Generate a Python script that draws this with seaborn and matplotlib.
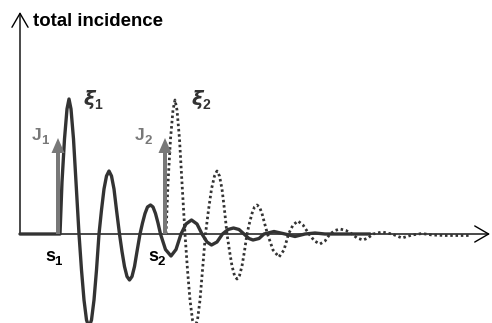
import matplotlib
matplotlib.use("Agg")
import matplotlib.pyplot as plt
import seaborn as sns
import pandas as pd
from matplotlib.patches import ArrowStyle

sns.set_theme(style="white")
plt.rcParams['font.family'] = ['Liberation Sans', 'DejaVu Sans']

# ---- data (time units, amplitude units) ----
solid_t = [0.0, 4.0, 4.2, 4.45, 4.7, 4.9, 5.1, 5.35, 5.6, 5.9,
           6.15, 6.4, 6.65, 6.9, 7.15, 7.4, 7.65, 7.9,
           8.15, 8.4, 8.65, 8.9, 9.15, 9.4, 9.65, 9.95,
           10.2, 10.45, 10.7, 10.95, 11.2, 11.45, 11.7, 12.0,
           12.25, 12.5, 12.75, 13.05, 13.3, 13.55, 13.8, 14.05,
           14.55, 15.1, 15.6, 16.1, 16.6, 17.15, 17.7, 18.2,
           18.7, 19.15, 19.7, 20.25, 20.8, 21.35, 21.9, 22.4,
           22.9, 23.3, 23.9, 24.4, 25.4, 26.5, 27.5, 28.5, 29.5, 30.5, 35.0]
solid_y = [0.0, 0.0, 5.2, 9.5, 12.5, 13.5, 12.5, 9.5, 5.2, 0.0,
           -3.6, -6.6, -8.6, -9.3, -8.6, -6.6, -3.6, 0.0,
           2.4, 4.5, 5.8, 6.3, 5.8, 4.5, 2.4, 0.0,
           -1.75, -3.25, -4.25, -4.6, -4.25, -3.25, -1.75, 0.0,
           1.1, 2.05, 2.7, 2.9, 2.7, 2.05, 1.1, 0.0,
           -1.55, -2.2, -1.55, 0.0, 1.0, 1.4, 1.0, 0.0,
           -0.8, -1.1, -0.8, 0.0, 0.45, 0.6, 0.45, 0.0,
           -0.45, -0.6, -0.45, 0.0, 0.25, 0.0, -0.25, 0.0, 0.1, 0.0, 0.0]

dotted_t = [14.6, 14.8, 15.05, 15.3, 15.5, 15.7, 15.95, 16.2, 16.5,
            16.75, 17.0, 17.25, 17.5, 17.75, 18.0, 18.25, 18.55,
            18.85, 19.15, 19.45, 19.7, 19.95, 20.2, 20.45, 20.7,
            20.95, 21.2, 21.45, 21.7, 21.95, 22.2, 22.45, 22.7,
            22.95, 23.2, 23.45, 23.7, 23.95, 24.2, 24.45, 24.75,
            25.3, 25.9, 26.4, 26.85, 27.3, 27.8, 28.3, 28.9,
            29.45, 30.0, 30.5, 31.0, 31.5, 32.0, 32.6, 33.2,
            33.7, 34.3, 34.8, 35.3, 36.2, 37.2, 38.2, 39.2, 40.2, 41.2, 42.5, 45.0]
dotted_y = [0.0, 5.1, 9.5, 12.4, 13.4, 12.4, 9.5, 5.1, 0.0,
            -3.6, -6.6, -8.6, -9.3, -8.6, -6.6, -3.6, 0.0,
            2.4, 4.5, 5.8, 6.3, 5.8, 4.5, 2.4, 0.0,
            -1.7, -3.2, -4.15, -4.5, -4.15, -3.2, -1.7, 0.0,
            1.1, 2.05, 2.7, 2.9, 2.7, 2.05, 1.1, 0.0,
            -1.6, -2.3, -1.6, 0.0, 0.9, 1.3, 0.9, 0.0,
            -0.7, -1.0, -0.7, 0.0, 0.35, 0.5, 0.35, 0.0,
            -0.4, -0.6, -0.4, 0.0, 0.2, 0.0, -0.4, -0.1, 0.05, -0.1, -0.15, -0.15]

impulse_t = [3.8, 14.5]
impulse_h = [9.6, 9.6]
impulse_labels = ["J", "J"]
impulse_subs = ["1", "2"]
stim_labels = ["s", "s"]
resp_labels = ["ξ", "ξ"]

dark = "#333333"
gray = "#787878"

fig = plt.figure(figsize=(4.92, 3.23), dpi=100)
ax = fig.add_axes([0, 0, 1, 1])
ax.set_xlim(-2.0, 47.2)
ax.set_ylim(-8.9, 23.4)
ax.axis("off")

# axes with arrowheads
axis_style = ArrowStyle("->", head_length=10, head_width=5.8)
ax.annotate("", xy=(47.0, 0), xytext=(0, 0),
            arrowprops=dict(arrowstyle=axis_style, mutation_scale=1, color="black",
                            lw=1.0, shrinkA=0, shrinkB=0))
ax.annotate("", xy=(0, 22.2), xytext=(0, 0),
            arrowprops=dict(arrowstyle=axis_style, mutation_scale=1, color="black",
                            lw=1.0, shrinkA=0, shrinkB=0))

df_s = pd.DataFrame({"t": solid_t, "y": solid_y})
df_d = pd.DataFrame({"t": dotted_t, "y": dotted_y})
sns.lineplot(data=df_d, x="t", y="y", ax=ax, color=dark, lw=2.0, sort=False,
             estimator=None, dashes=False, linestyle=(0, (0.9, 1.0)), zorder=3)
sns.lineplot(data=df_s, x="t", y="y", ax=ax, color=dark, lw=2.4, sort=False,
             estimator=None, zorder=4)
for l in ax.lines:
    l.set_solid_joinstyle("round")

# impulse arrows
for tx, h in zip(impulse_t, impulse_h):
    ax.arrow(tx, 0, 0, h, width=0.4, head_width=1.3, head_length=1.5,
             length_includes_head=True, color=gray, lw=0, zorder=5)

# labels
ax.text(1.3, 20.8, "total incidence", fontsize=13.4, fontweight="bold",
        ha="left", va="baseline", color="black")

jx = [1.2, 11.5]
for i in range(2):
    ax.text(jx[i], 9.4, impulse_labels[i], fontsize=12.5, fontweight="bold",
            color=gray, ha="left", va="baseline")
    ax.text(jx[i] + 0.95, 9.0, impulse_subs[i], fontsize=9.5, fontweight="bold",
            color=gray, ha="left", va="baseline")

sx = [2.5, 12.8]
for i in range(2):
    ax.text(sx[i], -2.7, stim_labels[i], fontsize=13, fontweight="bold",
            color="black", ha="left", va="baseline")
    ax.text(sx[i] + 0.95, -3.1, impulse_subs[i], fontsize=9.5, fontweight="bold",
            color="black", ha="left", va="baseline")

xx = [6.3, 17.1]
for i in range(2):
    ax.text(xx[i], 12.9, resp_labels[i], fontsize=14, fontweight="bold",
            style="italic", color=dark, ha="left", va="baseline",
            family=["DejaVu Sans"])
    ax.text(xx[i] + 1.15, 12.5, impulse_subs[i], fontsize=10, fontweight="bold",
            color=dark, ha="left", va="baseline")

fig.savefig("out.png", dpi=100)
